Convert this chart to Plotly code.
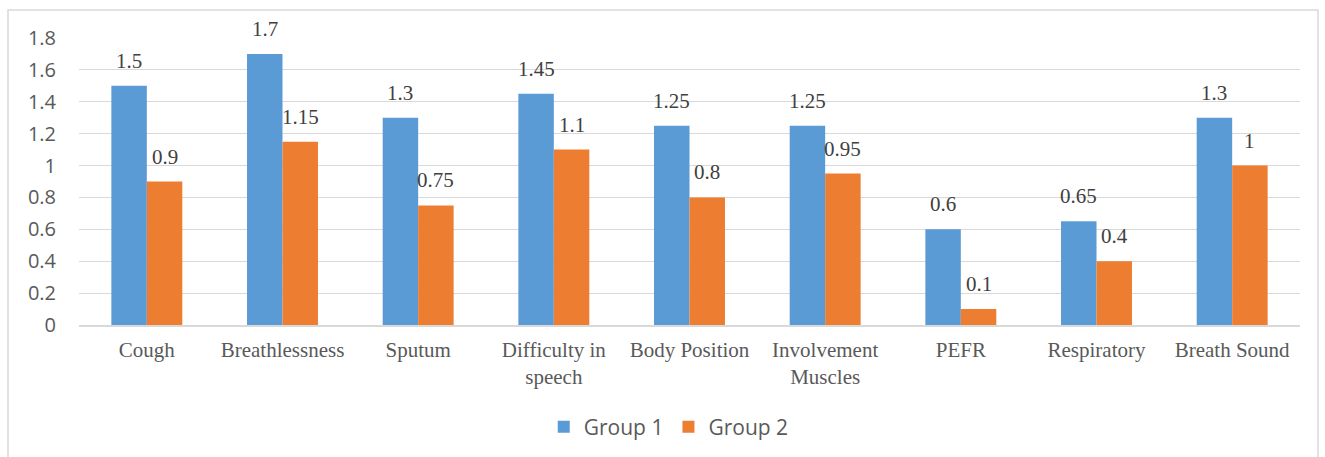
import plotly.graph_objects as go

categories = ["Cough", "Breathlessness", "Sputum", "Difficulty in<br>speech",
              "Body Position", "Involvement<br>Muscles", "PEFR", "Respiratory",
              "Breath Sound"]
group1 = [1.5, 1.7, 1.3, 1.45, 1.25, 1.25, 0.6, 0.65, 1.3]
group2 = [0.9, 1.15, 0.75, 1.1, 0.8, 0.95, 0.1, 0.4, 1.0]
y_ticks = [0, 0.2, 0.4, 0.6, 0.8, 1, 1.2, 1.4, 1.6, 1.8]

BLUE = "#5B9BD5"
ORANGE = "#ED7D31"
GRID = "#D9D9D9"
SERIF = "Liberation Serif"
SANS = "Open Sans"

W, H = 1325, 457
M = dict(l=79, r=25, t=38, b=132)
BARGAP = 0.477

fig = go.Figure()
fig.add_trace(go.Bar(name="Group 1", x=list(range(len(categories))), y=group1,
                     marker=dict(color=BLUE, line=dict(width=0))))
fig.add_trace(go.Bar(name="Group 2", x=list(range(len(categories))), y=group2,
                     marker=dict(color=ORANGE, line=dict(width=0))))

# value labels centred over each bar, lifted a little above the bar top
half = (1 - BARGAP) / 4
for series, off in ((group1, -half), (group2, half)):
    for i, v in enumerate(series):
        fig.add_annotation(x=i + off, y=v, text=f"{v:g}", showarrow=False,
                           yanchor="bottom", yshift=11,
                           font=dict(family=SERIF, size=21, color="#404040"))

# light frame around the chart area
pw = W - M["l"] - M["r"]
ph = H - M["t"] - M["b"]
fig.add_shape(type="rect", xref="paper", yref="paper",
              x0=(8 - M["l"]) / pw, x1=(1318 - M["l"]) / pw,
              y0=-(H + 20 - M["t"] - ph) / ph, y1=(M["t"] - 10 + ph) / ph,
              line=dict(color=GRID, width=1.5), fillcolor="rgba(0,0,0,0)",
              layer="below")

fig.update_layout(
    width=W, height=H, margin=M,
    paper_bgcolor="white", plot_bgcolor="white",
    barmode="group", bargap=BARGAP, bargroupgap=0,
    showlegend=True,
    legend=dict(orientation="h", x=0.483, xanchor="center",
                yref="container", y=30 / H, yanchor="middle",
                font=dict(family=SANS, size=21, color="#595959"),
                itemwidth=30, traceorder="normal"),
    xaxis=dict(tickmode="array", tickvals=list(range(len(categories))),
               ticktext=categories, range=[-0.5, len(categories) - 0.5],
               showgrid=False, showline=True, linecolor=GRID, linewidth=1.5,
               ticks="", tickfont=dict(family=SERIF, size=21, color="#595959"),
               ticklabelstandoff=5, zeroline=False, automargin=False),
    yaxis=dict(range=[0, 1.8], tickmode="array", tickvals=y_ticks,
               ticktext=[f"{t:g}" for t in y_ticks],
               showgrid=True, gridcolor=GRID, gridwidth=1.2, zeroline=False,
               showline=False, ticks="", ticklabelstandoff=22, automargin=False,
               tickfont=dict(family=SANS, size=20, color="#595959")),
)

fig.write_html("out.html")
